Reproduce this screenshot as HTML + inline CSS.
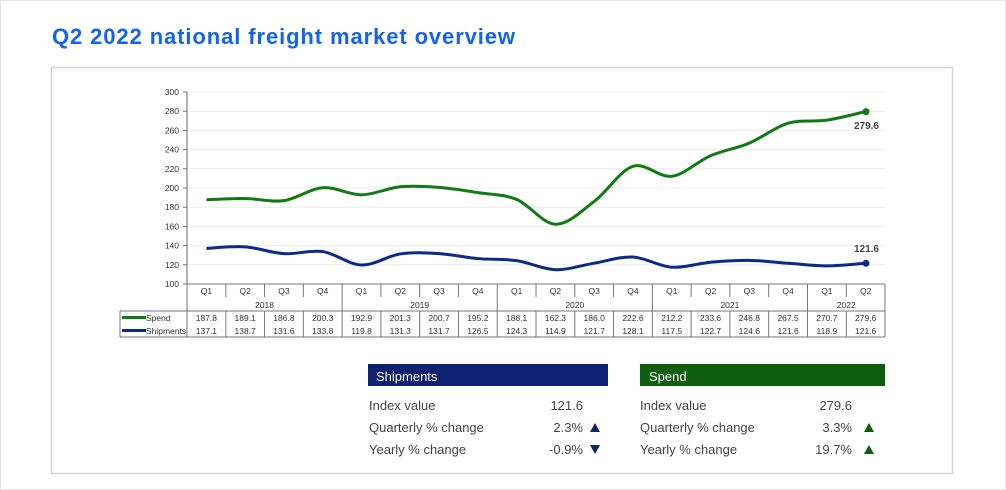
<!DOCTYPE html>
<html><head><meta charset="utf-8"><style>
body{margin:0;background:#fff;width:1006px;height:490px;overflow:hidden;font-family:"Liberation Sans",sans-serif}
svg{position:absolute;left:0;top:0}
</style></head><body>
<svg id="s" width="1006" height="490" xmlns="http://www.w3.org/2000/svg" font-family="Liberation Sans, sans-serif">
<rect x="0.5" y="0.5" width="1005" height="489" fill="#fff" stroke="#e6e6e6"/>
<text x="52" y="44" font-size="22" font-weight="bold" fill="#1463f0" letter-spacing="0.9">Q2 2022 national freight market overview</text>
<rect x="51.5" y="67.5" width="901" height="406" fill="#fff" stroke="#d4d4d4" stroke-width="1.5"/>
<g id="grid" stroke="#ececec" stroke-width="1"></g>
<g id="ylab" font-size="8.5" fill="#333" text-anchor="end"></g>
<line x1="187" y1="92" x2="187" y2="284" stroke="#666"/>
<g id="tbl" stroke="#777" stroke-width="1" fill="none"></g>
<g id="ttxt" font-size="8.5" fill="#333" text-anchor="middle"></g>
<path id="sp" fill="none" stroke="#117a15" stroke-width="3"/>
<path id="sh" fill="none" stroke="#0d2a8a" stroke-width="3"/>
<circle cx="866" cy="111.6" r="3.5" fill="#117a15"/>
<circle cx="866" cy="263.3" r="3.5" fill="#0d2a8a"/>
<text x="879" y="129" font-size="10" font-weight="bold" fill="#444" text-anchor="end">279.6</text>
<text x="879" y="252" font-size="10" font-weight="bold" fill="#444" text-anchor="end">121.6</text>
<line x1="122" y1="317.5" x2="146" y2="317.5" stroke="#117a15" stroke-width="3"/>
<line x1="122" y1="330.5" x2="146" y2="330.5" stroke="#0d2a8a" stroke-width="3"/>
<text x="146" y="321" font-size="8.5" fill="#333">Spend</text>
<text x="146" y="334" font-size="8.5" fill="#333">Shipments</text>

<rect x="368" y="364" width="240" height="22" fill="#0d2170"/>
<text x="376" y="381" font-size="13" fill="#fff">Shipments</text>
<rect x="640" y="364" width="245" height="22" fill="#0d5f0e"/>
<text x="649" y="381" font-size="13" fill="#fff">Spend</text>
<g font-size="13" fill="#444">
<text x="369" y="410">Index value</text><text x="583" y="410" text-anchor="end">121.6</text>
<text x="369" y="432">Quarterly % change</text><text x="583" y="432" text-anchor="end">2.3%</text>
<text x="369" y="454">Yearly % change</text><text x="583" y="454" text-anchor="end">-0.9%</text>
<text x="640" y="410">Index value</text><text x="852" y="410" text-anchor="end">279.6</text>
<text x="640" y="432">Quarterly % change</text><text x="852" y="432" text-anchor="end">3.3%</text>
<text x="640" y="454">Yearly % change</text><text x="852" y="454" text-anchor="end">19.7%</text>
</g>
<polygon points="590,432 600,432 595,423" fill="#0d2170"/>
<polygon points="590,445 600,445 595,454" fill="#0d2170"/>
<polygon points="864,432 874,432 869,423" fill="#0d5f0e"/>
<polygon points="864,454 874,454 869,445" fill="#0d5f0e"/>
</svg>
<script>
const NS="http://www.w3.org/2000/svg";
const spend=[187.8,189.1,186.8,200.3,192.9,201.3,200.7,195.2,188.1,162.3,186.0,222.6,212.2,233.6,246.8,267.5,270.7,279.6];
const ship=[137.1,138.7,131.6,133.8,119.8,131.3,131.7,126.5,124.3,114.9,121.7,128.1,117.5,122.7,124.6,121.6,118.9,121.6];
const X0=187,W=38.78,Y=v=>284-(v-100)*0.96;
function el(p,t,a,txt){const e=document.createElementNS(NS,t);for(const k in a)e.setAttribute(k,a[k]);if(txt!=null)e.textContent=txt;document.getElementById(p).appendChild(e);}
for(let v=100;v<=300;v+=20){const y=Y(v);if(v>100)el("grid","line",{x1:187,x2:885,y1:y,y2:y});el("ylab","text",{x:179,y:y+3},v);el("tbl","line",{x1:183,x2:187,y1:y,y2:y});}
function path(d){const p=d.map((v,i)=>[X0+W*(i+.5),Y(v)]);let s="M"+p[0];for(let i=0;i<p.length-1;i++){const a=p[i-1]||p[i],b=p[i],c=p[i+1],e=p[i+2]||c;const c1=[b[0]+(c[0]-a[0])/6,b[1]+(c[1]-a[1])/6],c2=[c[0]-(e[0]-b[0])/6,c[1]-(e[1]-b[1])/6];s+="C"+c1+" "+c2+" "+c;}return s;}
document.getElementById("sp").setAttribute("d",path(spend));
document.getElementById("sh").setAttribute("d",path(ship));
const R=885;
el("tbl","line",{x1:187,x2:R,y1:284,y2:284});
el("tbl","line",{x1:120,x2:R,y1:311,y2:311});
el("tbl","line",{x1:120,x2:R,y1:337,y2:337});
el("tbl","line",{x1:120,x2:120,y1:311,y2:337});
el("tbl","line",{x1:R,x2:R,y1:284,y2:337});
for(let i=0;i<18;i++){const x=X0+W*i;const ye=(i%4==0)?337:297;el("tbl","line",{x1:x,x2:x,y1:284,y2:ye});if(i%4!=0)el("tbl","line",{x1:x,x2:x,y1:311,y2:337});
el("ttxt","text",{x:x+W/2,y:294},"Q"+(i%4+1));el("ttxt","text",{x:x+W/2,y:321},spend[i].toFixed(1));el("ttxt","text",{x:x+W/2,y:334},ship[i].toFixed(1));}
["2018","2019","2020","2021","2022"].forEach((y,j)=>{const n=j<4?4:2;el("ttxt","text",{x:X0+W*(4*j+n/2),y:308},y);});
</script>
</body></html>
